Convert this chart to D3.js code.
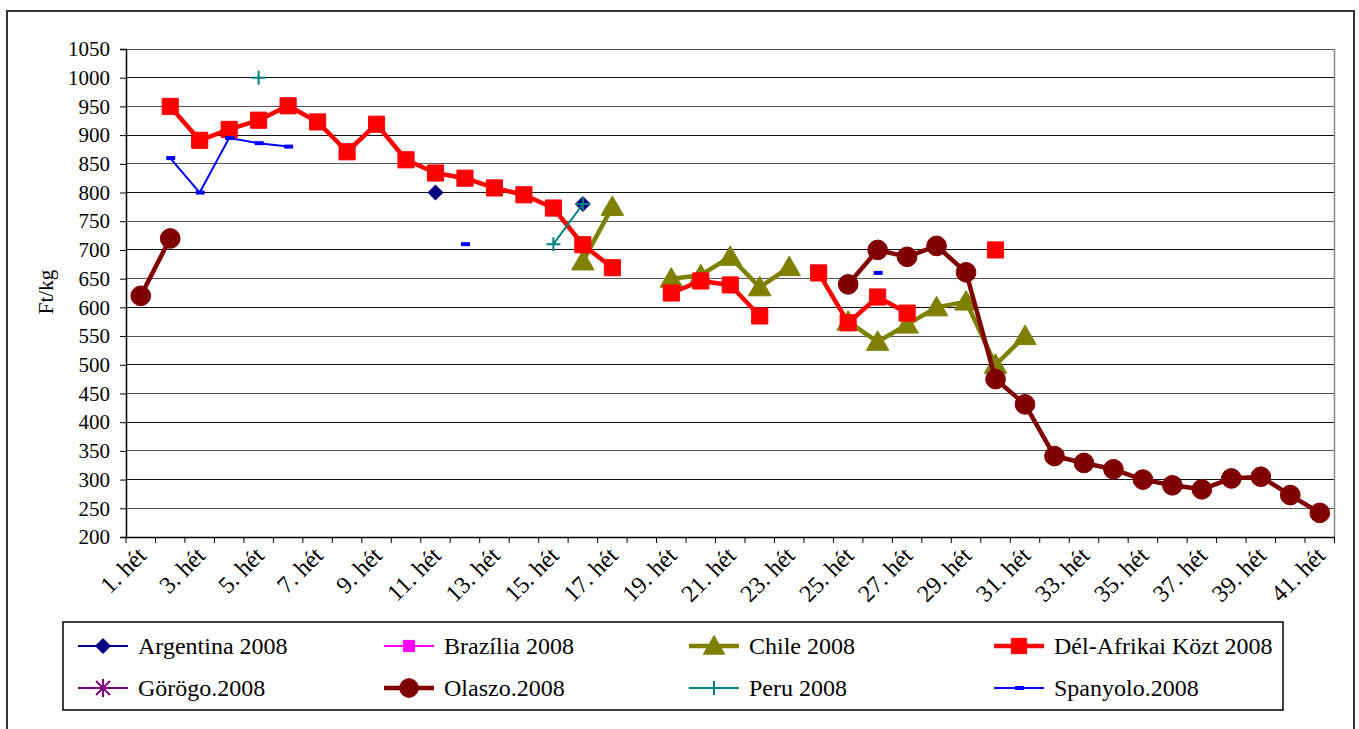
<!DOCTYPE html>
<html><head><meta charset="utf-8">
<script src="https://cdn.jsdelivr.net/npm/d3@7"></script>
<style>body{margin:0;background:#fff}svg{display:block}svg text{font-family:"Liberation Serif","Times New Roman",serif}</style>
</head><body>
<svg id="c" width="1359" height="729"></svg>
<script>
const weeks = d3.range(1, 42).map(i => i + ". hét");
const yTicks = d3.range(200, 1051, 50);
const argentina = {11: 800, 16: 780};
const brazilia = {};
const chile = {16: 680, 17: 775, 19: 650, 20: 656, 21: 688, 22: 635, 23: 670, 25: 575, 26: 540, 27: 570, 28: 600, 29: 610, 30: 500, 31: 550};
const delafrika = {2: 950, 3: 891, 4: 910, 5: 926, 6: 951, 7: 923, 8: 871, 9: 919, 10: 857, 11: 834, 12: 825, 13: 808, 14: 796, 15: 773, 16: 709, 17: 669, 19: 625, 20: 646, 21: 639, 22: 585, 24: 660, 25: 573, 26: 618, 27: 590, 30: 700};
const gorogo = {};
const olaszo = {1: 620, 2: 720, 25: 640, 26: 700, 27: 688, 28: 707, 29: 661, 30: 475, 31: 431, 32: 341, 33: 329, 34: 318, 35: 300, 36: 290, 37: 283, 38: 302, 39: 305, 40: 273, 41: 242};
const peru = {5: 1000, 15: 710, 16: 780};
const spanyolo = {2: 860, 3: 800, 4: 895, 5: 886, 6: 880, 12: 710, 26: 660};

const series = [
  {name: "Argentina 2008", data: argentina, color: "#000080", width: 2, marker: "diamond", size: 8},
  {name: "Brazília 2008", data: brazilia, color: "#FF00FF", width: 2, marker: "square", size: 140},
  {name: "Chile 2008", data: chile, color: "#808000", width: 4.5, marker: "triangle", size: 220},
  {name: "Dél-Afrikai Közt 2008", data: delafrika, color: "#FF0000", width: 4.5, marker: "square", size: 260},
  {name: "Görögo.2008", data: gorogo, color: "#800080", width: 2, marker: "star", size: 150},
  {name: "Olaszo.2008", data: olaszo, color: "#800000", width: 4.5, marker: "circle", size: 305},
  {name: "Peru 2008", data: peru, color: "#008080", width: 2, marker: "plus", size: 14},
  {name: "Spanyolo.2008", data: spanyolo, color: "#0000FF", width: 2, marker: "dash", size: 0}
];

const svg = d3.select("#c");

svg.append("rect").attr("x", 7).attr("y", 11).attr("width", 1347).attr("height", 740)
  .attr("fill", "#fff").attr("stroke", "#333").attr("stroke-width", 2);

const L = 126, R = 1334.5, T = 49, B = 537;
const x = d3.scaleBand().domain(weeks).range([L, R]).padding(0);
const y = d3.scaleLinear().domain([200, 1050]).range([B, T]);
const cx = i => x(weeks[i - 1]) + x.bandwidth() / 2;

// grid
svg.append("g").selectAll("line").data(yTicks).join("line")
  .attr("x1", L).attr("x2", R).attr("y1", d => y(d)).attr("y2", d => y(d))
  .attr("stroke", (d, i) => i % 2 ? "#555" : "#111").attr("stroke-width", 1).attr("shape-rendering", "crispEdges");
svg.append("line").attr("x1", R).attr("x2", R).attr("y1", T).attr("y2", B)
  .attr("stroke", "#888").attr("stroke-width", 1.5);

// y axis
const ya = svg.append("g").attr("transform", `translate(${L},0)`)
  .call(d3.axisLeft(y).tickValues(yTicks).tickSize(6).tickPadding(10).tickFormat(d3.format("d")));
ya.select(".domain").attr("stroke", "#000").attr("stroke-width", 1.5);
ya.selectAll(".tick line").attr("stroke", "#000");
ya.selectAll("text").attr("font-size", 21).attr("fill", "#000").attr("font-family", null);

// x axis
const xa = svg.append("g").attr("transform", `translate(0,${B})`)
  .call(d3.axisBottom(x).tickValues([]).tickSizeOuter(0));
xa.select(".domain").attr("stroke", "#000").attr("stroke-width", 1.5);
svg.append("g").selectAll("line").data(d3.range(0, 42)).join("line")
  .attr("x1", i => L + i * x.bandwidth()).attr("x2", i => L + i * x.bandwidth())
  .attr("y1", B).attr("y2", B + 6).attr("stroke", "#000");
svg.append("g").selectAll("text").data(weeks.filter((d, i) => i % 2 === 0)).join("text")
  .attr("transform", d => `translate(${x(d) + x.bandwidth() / 2 + 1},${B + 14}) rotate(-45)`)
  .attr("text-anchor", "end").attr("dy", "0.35em")
  .attr("font-size", 24).text(d => d);

svg.append("text").attr("transform", "translate(53,292) rotate(-90)").attr("text-anchor", "middle")
  .attr("font-size", 21).text("Ft/kg");

function markerPath(type, size) {
  if (type === "square") return d3.symbol(d3.symbolSquare, size)();
  if (type === "triangle") return d3.symbol(d3.symbolTriangle, size)();
  if (type === "circle") return d3.symbol(d3.symbolCircle, size)();
  return null;
}
function drawMarker(g, s, px, py, legend) {
  if (s.marker === "plus") {
    const h = 7;
    g.append("path").attr("d", `M${px - h},${py}H${px + h}M${px},${py - h}V${py + h}`)
      .attr("stroke", s.color).attr("stroke-width", 2).attr("fill", "none");
  } else if (s.marker === "dash") {
    g.append("rect").attr("x", px - 4).attr("y", py - 2).attr("width", 9).attr("height", 4).attr("fill", s.color);
  } else if (s.marker === "diamond") {
    const h = s.size;
    g.append("path").attr("d", `M${px},${py - h}L${px + h},${py}L${px},${py + h}L${px - h},${py}Z`)
      .attr("fill", s.color);
  } else if (s.marker === "star") {
    const h = 7;
    g.append("path").attr("d", `M${px - h},${py - h}L${px + h},${py + h}M${px - h},${py + h}L${px + h},${py - h}M${px},${py - h * 1.3}V${py + h * 1.3}`)
      .attr("stroke", s.color).attr("stroke-width", 2).attr("fill", "none");
  } else {
    const sz = legend ? s.size * 0.9 : s.size;
    g.append("path").attr("d", markerPath(s.marker, sz))
      .attr("transform", `translate(${px},${py})` + (s.marker === "triangle" ? " translate(0,2)" : ""))
      .attr("fill", s.color).attr("stroke", s.color).attr("stroke-width", 1);
  }
}

// series
series.forEach(s => {
  const g = svg.append("g");
  const pts = weeks.map((w, i) => ({i: i + 1, v: s.data[i + 1] !== undefined ? s.data[i + 1] : null}));
  const line = d3.line().defined(d => d.v !== null).x(d => cx(d.i)).y(d => y(d.v));
  g.append("path").datum(pts).attr("d", line).attr("fill", "none")
    .attr("stroke", s.color).attr("stroke-width", s.width).attr("stroke-linejoin", "round");
  pts.filter(d => d.v !== null).forEach(d => drawMarker(g, s, cx(d.i), y(d.v), false));
});

// legend
const lg = svg.append("g");
lg.append("rect").attr("x", 63).attr("y", 622).attr("width", 1220).attr("height", 88)
  .attr("fill", "#fff").attr("stroke", "#000").attr("stroke-width", 1.5);
const colX = [78, 384, 689, 994];
const rowY = [646, 688];
series.forEach((s, k) => {
  const c = k % 4, r = Math.floor(k / 4);
  const x0 = colX[c], yy = rowY[r];
  lg.append("line").attr("x1", x0).attr("x2", x0 + 50).attr("y1", yy).attr("y2", yy)
    .attr("stroke", s.color).attr("stroke-width", s.width);
  drawMarker(lg, s, x0 + 25, yy, true);
  lg.append("text").attr("x", x0 + 60).attr("y", yy).attr("dy", "0.35em")
    .attr("font-size", 24).text(s.name);
});
</script>
</body></html>
